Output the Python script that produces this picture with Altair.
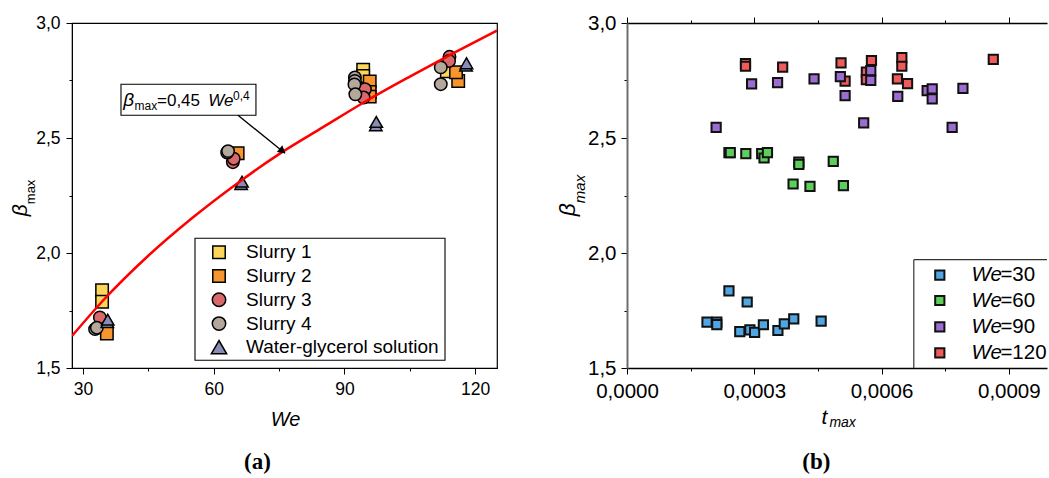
import altair as alt
import pandas as pd

# ---------------- Panel (a): beta_max vs We ----------------
s1_we = [34.4, 34.4, 94.3, 94.3, 113.5]
s1_b = [1.838, 1.788, 2.797, 2.770, 2.790]
s2_we = [35.5, 65.5, 95.8, 95.8, 95.8, 116.1, 115.6]
s2_b = [1.650, 2.434, 2.746, 2.700, 2.680, 2.748, 2.786]
s3_we = [33.9, 64.4, 64.6, 94.7, 94.4, 114.1, 114.0]
s3_b = [1.720, 2.395, 2.410, 2.712, 2.676, 2.853, 2.835]
s4_we = [32.8, 33.2, 63.1, 63.3, 92.4, 92.4, 92.3, 92.5, 112.1, 112.1]
s4_b = [1.669, 1.675, 2.437, 2.443, 2.763, 2.748, 2.733, 2.690, 2.807, 2.734]
wg_we = [35.6, 35.7, 66.3, 66.5, 97.2, 97.3, 117.9, 118.0]
wg_b = [1.700, 1.710, 2.300, 2.310, 2.555, 2.570, 2.815, 2.825]

series_a = ["Slurry 1", "Slurry 2", "Slurry 3", "Slurry 4", "Water-glycerol solution"]
fills_a = ["#FCD55B", "#F7962F", "#D9686B", "#B4A79C", "#8B8CB5"]
shapes_a = ["square", "square", "circle", "circle", "triangle-up"]
sizes_a = [155, 155, 180, 180, 235]

# fitted curve
fit_we = [27.5, 35, 45, 55, 65, 75, 85, 95, 105, 115, 125]
fit_b = [1.639, 1.801, 1.988, 2.151, 2.297, 2.430, 2.546, 2.661, 2.767, 2.869, 2.967]

# annotation box and arrow (data coordinates)
box_we = [38.74, 69.7]
box_b = [2.599, 2.734]
arrow_we = [65.58, 76.36]
arrow_b = [2.599, 2.434]

we_ticks = [30, 45, 60, 75, 90, 105, 120]
beta_ticks = [1.5, 1.75, 2.0, 2.25, 2.5, 2.75, 3.0]

# ---------------- Panel (b): beta_max vs t_max ----------------
t30 = [1.886e-4, 2.117e-4, 2.117e-4, 2.403e-4, 2.833e-4, 2.658e-4, 2.897e-4, 3.008e-4,
       3.215e-4, 3.557e-4, 3.708e-4, 3.931e-4, 4.576e-4]
b30 = [1.699, 1.699, 1.689, 1.835, 1.787, 1.658, 1.666, 1.655, 1.688, 1.663, 1.692, 1.714, 1.704]
t60 = [2.403e-4, 2.435e-4, 2.801e-4, 3.175e-4, 3.231e-4, 3.311e-4, 4.051e-4, 4.051e-4,
       3.915e-4, 4.313e-4, 4.862e-4, 5.101e-4]
b60 = [2.436, 2.436, 2.432, 2.432, 2.413, 2.436, 2.395, 2.385, 2.300, 2.290, 2.398, 2.293]
t120 = [2.793e-4, 2.793e-4, 3.669e-4, 5.045e-4, 5.141e-4, 5.642e-4, 5.642e-4, 5.762e-4,
        6.374e-4, 6.478e-4, 6.478e-4, 6.613e-4, 8.634e-4]
b120 = [2.823, 2.812, 2.808, 2.827, 2.747, 2.786, 2.754, 2.837, 2.757, 2.849, 2.812, 2.736, 2.842]
t90 = [2.101e-4, 2.937e-4, 3.549e-4, 4.409e-4, 5.029e-4, 5.141e-4, 5.579e-4, 5.746e-4,
       5.746e-4, 6.382e-4, 7.075e-4, 7.194e-4, 7.194e-4, 7.664e-4, 7.918e-4]
b90 = [2.546, 2.735, 2.741, 2.757, 2.767, 2.684, 2.566, 2.793, 2.751, 2.681, 2.706, 2.714,
       2.670, 2.546, 2.716]

we_groups = ["30", "60", "90", "120"]
colors_b = ["#4FA6E3", "#5DCE5A", "#9B6DD0", "#EF5A5A"]
t_ticks = [0.0, 0.00015, 0.0003, 0.00045, 0.0006, 0.00075, 0.0009]

FONT = "Liberation Sans"

# ---------------- build tables ----------------
rows = []
for name, xs, ys in zip(series_a, [s1_we, s2_we, s3_we, s4_we, wg_we],
                        [s1_b, s2_b, s3_b, s4_b, wg_b]):
    for x, y in zip(xs, ys):
        rows.append({"series": name, "We": x, "beta": y})
df_a = pd.DataFrame(rows)
df_fit = pd.DataFrame({"We": fit_we, "beta": fit_b})
df_box = pd.DataFrame({"x": [box_we[0]], "x2": [box_we[1]], "y": [box_b[0]], "y2": [box_b[1]]})
df_arrow = pd.DataFrame({"x": [arrow_we[0]], "x2": [arrow_we[1]], "y": [arrow_b[0]], "y2": [arrow_b[1]]})
df_head = pd.DataFrame({"x": [arrow_we[1] - 0.8], "y": [arrow_b[1] + 0.013]})

rows = []
for g, xs, ys in [("30", t30, b30), ("60", t60, b60), ("120", t120, b120), ("90", t90, b90)]:
    for x, y in zip(xs, ys):
        rows.append({"group": g, "t": x, "beta": y})
df_b = pd.DataFrame(rows)

one = pd.DataFrame({"k": [0]})


def label(text, x, y, size, style="normal", weight="normal", angle=0, align="left",
          baseline="alphabetic", font=FONT):
    return alt.Chart(one).mark_text(
        text=text, fontSize=size, fontStyle=style, fontWeight=weight, angle=angle,
        align=align, baseline=baseline, font=font, color="black"
    ).encode(x=alt.value(x), y=alt.value(y))


# ---------------- axes ----------------
y_major = "abs(datum.value*2 - round(datum.value*2)) < 0.001"
y_axis = dict(
    values=beta_ticks, title=None, grid=False, labelOverlap=False,
    labelExpr=f"{y_major} ? replace(format(datum.value, '.1f'), '.', ',') : ''",
    tickSize={"condition": {"test": y_major, "value": 6}, "value": 3},
    tickColor="black", labelColor="black", labelFont=FONT,
)

xa_major = "datum.value % 30 == 0"
x_axis_a = alt.Axis(
    values=we_ticks, title=None, grid=False, labelFlush=False, labelOverlap=False,
    labelExpr=f"{xa_major} ? format(datum.value, 'd') : ''",
    tickSize={"condition": {"test": xa_major, "value": 6}, "value": 3},
    tickColor="black", domainColor="black", labelColor="black", labelFont=FONT,
    labelFontSize=17.5, labelPadding=6,
)
y_axis_a = alt.Axis(domainColor="black", labelFontSize=17.5, labelPadding=6, **y_axis)

xb_major = "abs(datum.value/0.0003 - round(datum.value/0.0003)) < 0.01"
x_axis_b = alt.Axis(
    values=t_ticks, title=None, grid=False, labelFlush=False, labelOverlap=False,
    labelExpr=f"{xb_major} ? replace(format(datum.value, '.4f'), '.', ',') : ''",
    tickSize={"condition": {"test": xb_major, "value": 6}, "value": 3},
    tickColor="black", domainColor="black", domainWidth=1.3, labelColor="black",
    labelFont=FONT, labelFontSize=20.5, labelPadding=7,
)
x_axis_b_top = alt.Axis(
    orient="top", values=t_ticks, title=None, grid=False, labels=False,
    tickSize={"condition": {"test": xb_major, "value": 6}, "value": 3},
    tickColor="black", domainColor="black", domainWidth=1.3,
)
y_axis_b = alt.Axis(domainColor="#6e6e6e", domainWidth=2, labelFontSize=20.5,
                    labelPadding=5, **y_axis)

# ---------------- panel (a) ----------------
xa = alt.Scale(domain=[27.5, 125], nice=False, zero=False)
ya = alt.Scale(domain=[1.5, 3.0], nice=False, zero=False)

pts_a = alt.Chart(df_a).mark_point(filled=True, opacity=1, stroke="black", strokeWidth=1.5).encode(
    x=alt.X("We:Q", scale=xa, axis=x_axis_a),
    y=alt.Y("beta:Q", scale=ya, axis=y_axis_a),
    fill=alt.Fill("series:N", scale=alt.Scale(domain=series_a, range=fills_a), legend=None),
    shape=alt.Shape("series:N", scale=alt.Scale(domain=series_a, range=shapes_a), legend=None),
    size=alt.Size("series:N", scale=alt.Scale(domain=series_a, range=sizes_a), legend=None),
)

fit = alt.Chart(df_fit).mark_line(color="#FF0000", strokeWidth=2.5, interpolate="monotone", clip=True).encode(
    x=alt.X("We:Q", scale=xa), y=alt.Y("beta:Q", scale=ya))

box = alt.Chart(df_box).mark_rect(fill="white", stroke="black", strokeWidth=1.1).encode(
    x="x:Q", x2="x2:Q", y="y:Q", y2="y2:Q")
arrow = alt.Chart(df_arrow).mark_rule(color="black", strokeWidth=1.4).encode(
    x="x:Q", x2="x2:Q", y="y:Q", y2="y2:Q")
head = alt.Chart(df_head).mark_point(shape="triangle", filled=True, color="black", size=75,
                                     angle=129, opacity=1).encode(x="x:Q", y="y:Q")

ann = [
    label("β", 51.3, 82.9, 19, style="italic"),
    label("max", 62.5, 86.7, 12),
    label("=0,45", 85, 82.9, 17),
    label("We", 136.3, 82.9, 17, style="italic"),
    label("0,4", 161, 77.2, 12),
]

# legend of panel (a), drawn with marks
legend_a = [
    alt.Chart(one).mark_rect(fill="white", stroke="black", strokeWidth=1.1).encode(
        x=alt.value(123), x2=alt.value(373), y=alt.value(215.2), y2=alt.value(337.2)),
]
leg_a_rows = [229.2, 253.0, 276.8, 300.6, 324.2]
for name, c, shp, sz, ry in zip(series_a, fills_a, shapes_a, sizes_a, leg_a_rows):
    legend_a.append(alt.Chart(one).mark_point(shape=shp, filled=True, fill=c, stroke="black",
                                              strokeWidth=1.5, size=sz, opacity=1).encode(
        x=alt.value(147), y=alt.value(ry)))
    legend_a.append(label(name, 174, ry, 19, baseline="middle"))

titles_a = [
    label("β", -45, 193.2, 21, style="italic", angle=270),
    alt.Chart(one).mark_text(text="max", fontSize=13, angle=270, align="left", font=FONT,
                             color="black", dx=12, dy=4).encode(x=alt.value(-45), y=alt.value(193.2)),
    label("We", 213.5, 402.9, 20, style="italic", align="center"),
    label("(a)", 185.5, 446.2, 23, weight="bold", align="center", font="Liberation Serif"),
]

left = alt.layer(pts_a, fit, box, arrow, head, *ann, *legend_a, *titles_a).properties(
    width=425, height=345, view=alt.ViewBackground(stroke="black", strokeWidth=1.2))

# ---------------- panel (b) ----------------
xb = alt.Scale(domain=[0, 0.00099], nice=False, zero=False)
yb = alt.Scale(domain=[1.5, 3.0], nice=False, zero=False)

pts_b = alt.Chart(df_b).mark_square(size=85, stroke="#111111", strokeWidth=2, opacity=1,
                                    filled=True).encode(
    x=alt.X("t:Q", scale=xb, axis=x_axis_b),
    y=alt.Y("beta:Q", scale=yb, axis=y_axis_b),
    color=alt.Color("group:N", scale=alt.Scale(domain=we_groups, range=colors_b), legend=None),
)
top_axis = alt.Chart(df_b).mark_point(opacity=0).encode(
    x=alt.X("t:Q", scale=xb, axis=x_axis_b_top), y=alt.value(0))

leg_x, leg_y = 286.8, 236.7
leg_rows = [252.2, 277.5, 303.8, 329.8]
legend_b = [
    alt.Chart(one).mark_rule(color="#333333", strokeWidth=1.2).encode(
        x=alt.value(leg_x), x2=alt.value(420), y=alt.value(leg_y)),
    alt.Chart(one).mark_rule(color="#333333", strokeWidth=1.2).encode(
        x=alt.value(leg_x), y=alt.value(leg_y), y2=alt.value(345)),
]
for g, c, ry in zip(we_groups, colors_b, leg_rows):
    legend_b.append(alt.Chart(one).mark_square(size=85, fill=c, stroke="#111111", strokeWidth=2,
                                               opacity=1).encode(x=alt.value(312.8), y=alt.value(ry)))
    legend_b.append(label("We", 344.5, ry, 20.5, style="italic", baseline="middle"))
    legend_b.append(label("=" + g, 373.4, ry, 20.5, baseline="middle"))

titles_b = [
    label("β", -51.6, 193.2, 23, style="italic", angle=270),
    alt.Chart(one).mark_text(text="max", fontSize=15, fontStyle="italic", angle=270, align="left",
                             font=FONT, color="black", dx=13, dy=5).encode(
        x=alt.value(-51.6), y=alt.value(193.2)),
    label("t", 194.4, 401.2, 21, style="italic"),
    label("max", 202.4, 404.2, 14, style="italic"),
    label("(b)", 189.4, 446.2, 23, weight="bold", align="center", font="Liberation Serif"),
]

right = alt.layer(pts_b, top_axis, *legend_b, *titles_b).resolve_axis(x="independent").properties(
    width=420, height=345)

chart = alt.hconcat(left, right, spacing=130, bounds="flush").properties(
    padding={"left": 9, "top": 13, "right": 0, "bottom": 0},
    background="white",
).configure_view(stroke=None)

chart.save("out.html", embed_options={"renderer": "svg", "actions": False})
